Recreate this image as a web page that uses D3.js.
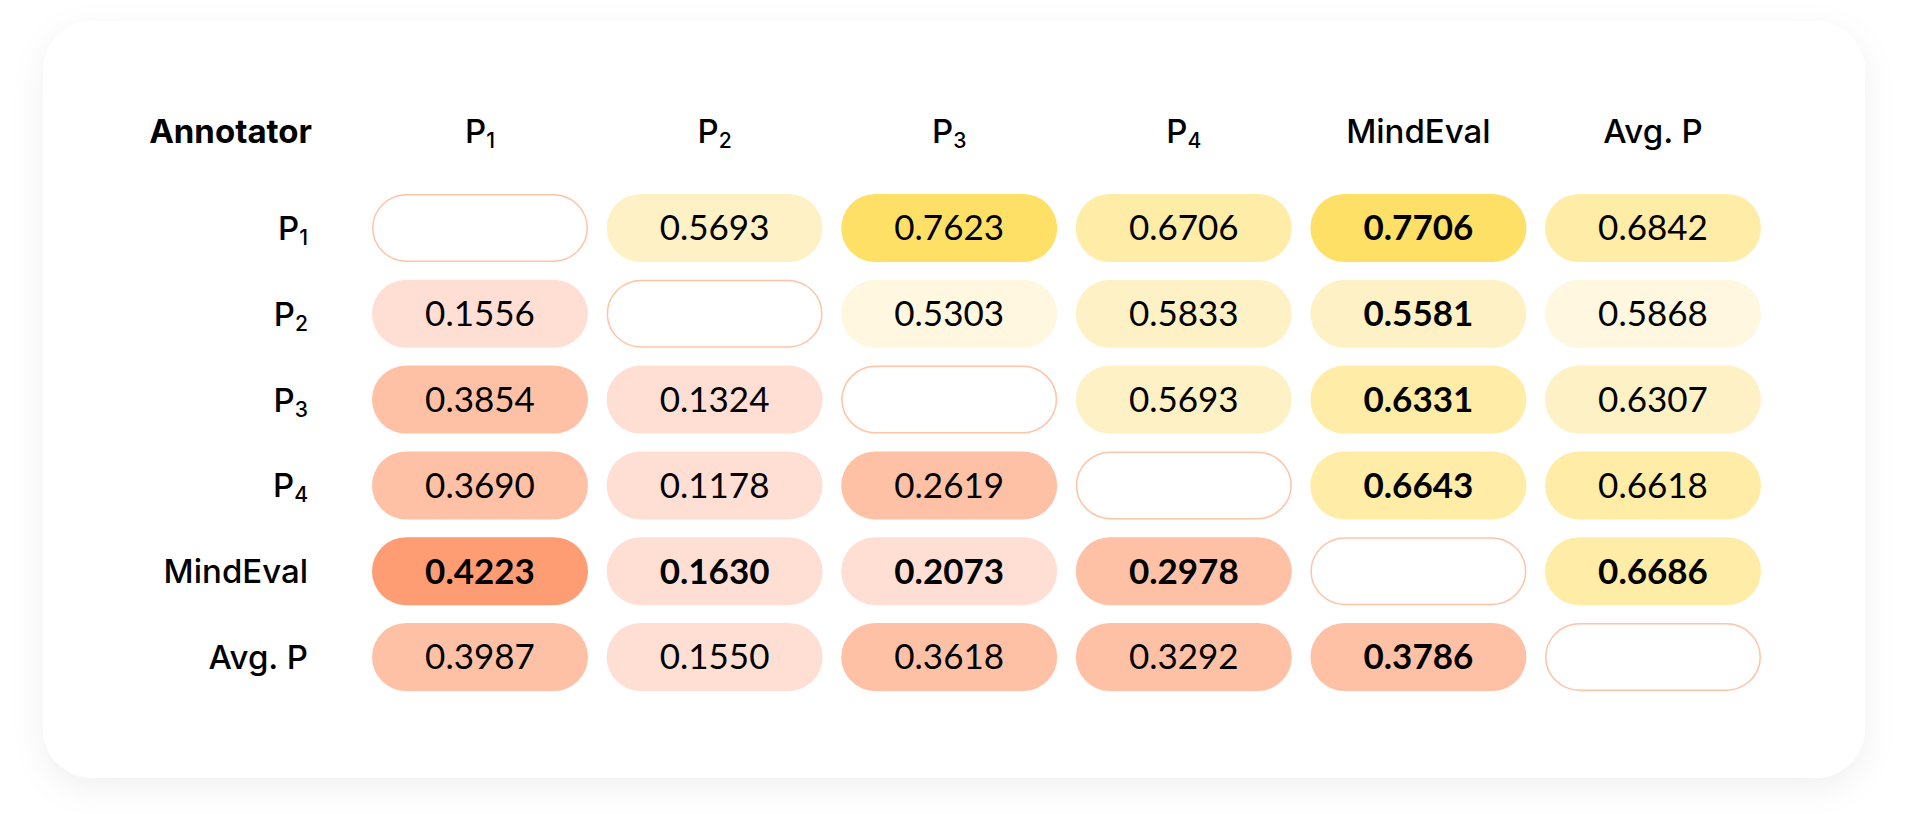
<!DOCTYPE html>
<html>
<head>
<meta charset="utf-8">
<script src="https://cdn.jsdelivr.net/npm/d3@7"></script>
<style>
  html, body { margin: 0; padding: 0; background: #ffffff; }
  svg { display: block; }
</style>
</head>
<body>
<div id="chart"></div>
<script>
const width = 1920;
const height = 814;

// labels and values
const cornerLabel = "Annotator";
const colLabels = ["P1", "P2", "P3", "P4", "MindEval", "Avg. P"];
const rowLabels = ["P1", "P2", "P3", "P4", "MindEval", "Avg. P"];

const rowP1       = [null,   0.5693, 0.7623, 0.6706, 0.7706, 0.6842];
const rowP2       = [0.1556, null,   0.5303, 0.5833, 0.5581, 0.5868];
const rowP3       = [0.3854, 0.1324, null,   0.5693, 0.6331, 0.6307];
const rowP4       = [0.3690, 0.1178, 0.2619, null,   0.6643, 0.6618];
const rowMindEval = [0.4223, 0.1630, 0.2073, 0.2978, null,   0.6686];
const rowAvgP     = [0.3987, 0.1550, 0.3618, 0.3292, 0.3786, null];
const values = [rowP1, rowP2, rowP3, rowP4, rowMindEval, rowAvgP];

const labelFont = "Inter, 'Noto Sans', sans-serif";
const numberFont = "Lato, 'Noto Sans', sans-serif";

// colour tiers
const yellow = d3.scaleThreshold()
    .domain([0.55, 0.60, 0.75])
    .range(["#fff7df", "#fff1c6", "#ffeca6", "#ffe066"]);
const yellowAvg = d3.scaleThreshold()
    .domain([0.60, 0.65, 0.75])
    .range(["#fff7df", "#fff1c6", "#ffeca6", "#ffe066"]);
const orange = d3.scaleThreshold()
    .domain([0.25, 0.40])
    .range(["#ffdfd4", "#ffc1a5", "#fe9c73"]);

const x = d3.scaleBand()
    .domain(colLabels)
    .range([372, 1761])
    .paddingInner(0.0793);
const y = d3.scaleBand()
    .domain(rowLabels)
    .range([194, 691])
    .paddingInner(0.2075);

const svg = d3.select("#chart")
    .append("svg")
        .attr("width", width)
        .attr("height", height);

const defs = svg.append("defs");
const shadow = defs.append("filter")
    .attr("id", "shadow")
    .attr("x", "-10%").attr("y", "-15%")
    .attr("width", "120%").attr("height", "135%");
shadow.append("feDropShadow")
    .attr("dx", 0).attr("dy", 10)
    .attr("stdDeviation", 16)
    .attr("flood-color", "#000")
    .attr("flood-opacity", 0.06);

// card
svg.append("rect")
    .attr("x", 43).attr("y", 21)
    .attr("width", 1822).attr("height", 757)
    .attr("rx", 50)
    .attr("fill", "#fff")
    .attr("filter", "url(#shadow)");

function writeLabel(sel, label) {
    const m = /^P(\d)$/.exec(label);
    if (m) {
        sel.append("tspan").text("P");
        sel.append("tspan")
            .attr("font-size", "0.64em")
            .attr("dy", 5)
            .text(m[1]);
    } else {
        sel.text(label);
    }
}

// header row
svg.append("text")
    .attr("x", 312)
    .attr("y", 143)
    .attr("text-anchor", "end")
    .attr("font-family", labelFont)
    .attr("font-size", 33)
    .attr("font-weight", 700)
    .attr("fill", "#000")
    .text(cornerLabel);

svg.append("g")
    .selectAll("text")
    .data(colLabels)
    .join("text")
        .attr("x", d => x(d) + x.bandwidth() / 2)
        .attr("y", 143)
        .attr("text-anchor", "middle")
        .attr("font-family", labelFont)
        .attr("font-size", 33)
        .attr("font-weight", 500)
        .attr("fill", "#000")
        .each(function(d) { writeLabel(d3.select(this), d); });

// row labels
svg.append("g")
    .selectAll("text")
    .data(rowLabels)
    .join("text")
        .attr("x", 308)
        .attr("y", d => y(d) + y.bandwidth() / 2 + 12)
        .attr("text-anchor", "end")
        .attr("font-family", labelFont)
        .attr("font-size", 33)
        .attr("font-weight", 500)
        .attr("fill", "#000")
        .each(function(d) { writeLabel(d3.select(this), d); });

// cells
const cells = [];
values.forEach((row, i) => row.forEach((v, j) => {
    cells.push({ r: rowLabels[i], c: colLabels[j], i, j, v });
}));

function cellFill(d) {
    if (d.v == null) return "#fff";
    if (d.j > d.i) return d.c === "Avg. P" ? yellowAvg(d.v) : yellow(d.v);
    return orange(d.v);
}

const cell = svg.append("g")
    .selectAll("g")
    .data(cells)
    .join("g")
        .attr("transform", d => `translate(${x(d.c)},${y(d.r)})`);

cell.append("rect")
    .attr("x", d => d.v == null ? 0.75 : 0)
    .attr("y", d => d.v == null ? 0.75 : 0)
    .attr("width", d => x.bandwidth() - (d.v == null ? 1.5 : 0))
    .attr("height", d => y.bandwidth() - (d.v == null ? 1.5 : 0))
    .attr("rx", y.bandwidth() / 2)
    .attr("fill", cellFill)
    .attr("stroke", d => d.v == null ? "#ffc3a8" : "none")
    .attr("stroke-width", 1.5);

cell.filter(d => d.v != null)
    .append("text")
        .attr("x", x.bandwidth() / 2)
        .attr("y", y.bandwidth() / 2 + 12.5)
        .attr("text-anchor", "middle")
        .attr("font-family", numberFont)
        .attr("font-size", 35)
        .attr("font-weight", d => (d.r === "MindEval" || d.c === "MindEval") ? 700 : 400)
        .attr("fill", "#000")
        .text(d => d3.format(".4f")(d.v));
</script>
</body>
</html>
